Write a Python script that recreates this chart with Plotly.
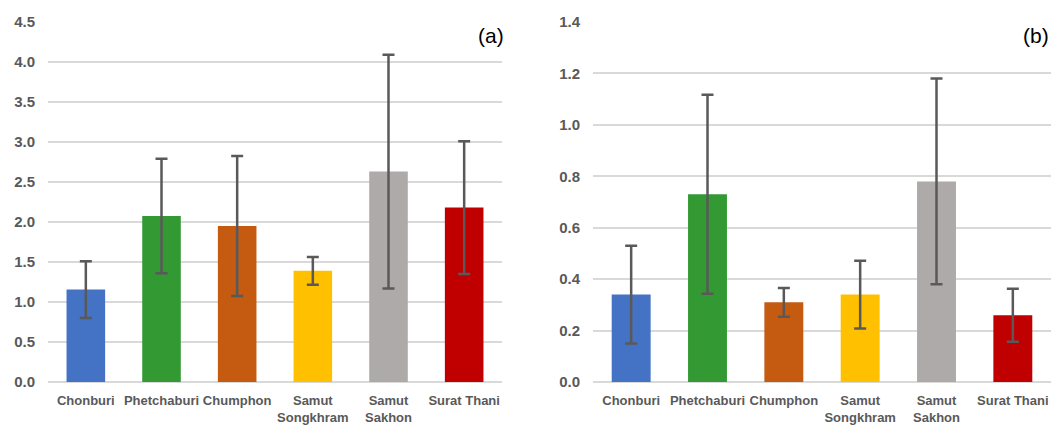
import plotly.graph_objects as go

categories = ["Chonburi", "Phetchaburi", "Chumphon", "Samut Songkhram", "Samut Sakhon", "Surat Thani"]
tick_labels = ["Chonburi", "Phetchaburi", "Chumphon", "Samut<br>Songkhram", "Samut<br>Sakhon", "Surat Thani"]
colors = ["#4472C4", "#339933", "#C55A11", "#FFC000", "#AEAAAA", "#C00000"]

a_values = [1.155, 2.075, 1.95, 1.39, 2.63, 2.18]
a_errors = [0.355, 0.715, 0.875, 0.173, 1.46, 0.83]

b_values = [0.34, 0.73, 0.31, 0.34, 0.78, 0.26]
b_errors = [0.19, 0.387, 0.056, 0.132, 0.40, 0.103]

W, H = 1055, 426
ML, MR, MT, MB = 48, 4, 22, 44
pw = W - ML - MR
d1 = (0, (502 - ML) / pw)
d2 = ((593 - ML) / pw, 1)

fig = go.Figure()
err_style = dict(type="data", visible=True, color="#595959", thickness=2.5, width=6)

fig.add_trace(go.Bar(x=categories, y=a_values, marker=dict(color=colors, line=dict(width=0)),
                     width=0.51, error_y=dict(array=a_errors, **err_style),
                     xaxis="x", yaxis="y", showlegend=False))
fig.add_trace(go.Bar(x=categories, y=b_values, marker=dict(color=colors, line=dict(width=0)),
                     width=0.51, error_y=dict(array=b_errors, **err_style),
                     xaxis="x2", yaxis="y2", showlegend=False))

tickfont_y = dict(family="Liberation Sans, Arial, sans-serif", size=15, color="#595959", weight="bold")
tickfont_x = dict(family="Liberation Sans, Arial, sans-serif", size=13, color="#595959", weight="bold")

xcommon = dict(type="category", tickvals=categories, ticktext=tick_labels, tickfont=tickfont_x,
               showgrid=False, showline=False, zeroline=False, ticks="", fixedrange=True,
               ticklabelstandoff=9, automargin=False)
ycommon = dict(showgrid=True, gridcolor="#D9D9D9", gridwidth=1.5, zeroline=True, zerolinecolor="#D9D9D9",
               zerolinewidth=1.5, showline=False, ticks="", tickfont=tickfont_y, ticklabelstandoff=12,
               automargin=False)

fig.update_layout(
    width=W, height=H,
    margin=dict(l=ML, r=MR, t=MT, b=MB),
    paper_bgcolor="white", plot_bgcolor="white",
    xaxis=dict(domain=d1, anchor="y", **xcommon),
    yaxis=dict(domain=[0, 1], anchor="x", range=[0, 4.5], dtick=0.5, tickformat=".1f", **ycommon),
    xaxis2=dict(domain=d2, anchor="y2", **xcommon),
    yaxis2=dict(domain=[0, 1], anchor="x2", range=[0, 1.4], dtick=0.2, tickformat=".1f", **ycommon),
    annotations=[
        dict(text="(a)", xref="paper", yref="paper", x=(506 - ML) / pw, y=(H - MB - 36) / (H - MT - MB),
             xanchor="right", yanchor="middle", showarrow=False,
             font=dict(family="Liberation Sans, Arial, sans-serif", size=21, color="#000000")),
        dict(text="(b)", xref="paper", yref="paper", x=1.0, y=(H - MB - 36) / (H - MT - MB),
             xanchor="right", yanchor="middle", showarrow=False,
             font=dict(family="Liberation Sans, Arial, sans-serif", size=21, color="#000000")),
    ],
)

fig.write_html("out.html", config={"displayModeBar": False},
               post_script="document.body.style.margin='0';document.body.style.overflow='hidden';")
